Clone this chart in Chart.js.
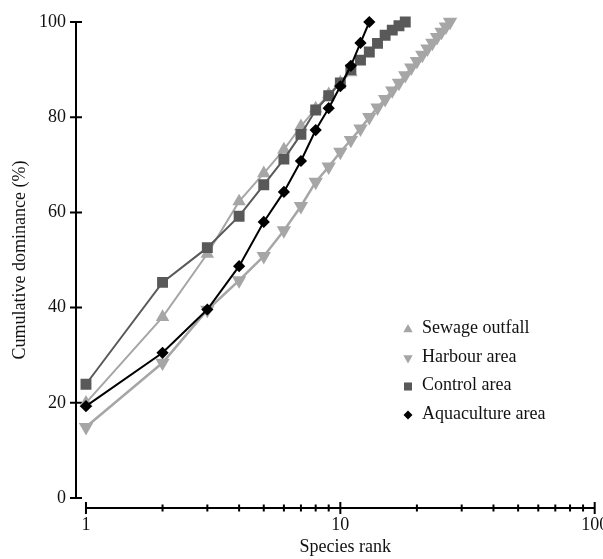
<!DOCTYPE html>
<html>
<head>
<meta charset="utf-8">
<script src="https://cdn.jsdelivr.net/npm/chart.js@4/dist/chart.umd.min.js"></script>
<style>
  html, body { margin: 0; padding: 0; background: #fff; }
  #wrap { width: 603px; height: 559px; }
</style>
</head>
<body>
<div id="wrap"><canvas id="chart" width="603" height="559"></canvas></div>
<script>
// Datos
const ranks = [1, 2, 3, 4, 5, 6, 7, 8, 9, 10, 11, 12, 13, 14, 15, 16, 17, 18, 19, 20, 21, 22, 23, 24, 25, 26, 27];
const sewage = [20.0, 38.0, 51.3, 62.3, 68.2, 73.2, 78.1, 81.8, 84.8, 87.3, 89.4];
const harbour = [14.9, 28.4, 39.5, 45.7, 50.8, 56.2, 61.3, 66.4, 69.6, 72.7, 75.2, 77.6, 80.0, 82.0, 83.8, 85.6, 87.2, 88.8, 90.4, 91.8, 93.1, 94.4, 95.6, 96.8, 97.9, 99.0, 100];
const control = [23.9, 45.3, 52.6, 59.2, 65.8, 71.2, 76.4, 81.5, 84.5, 87.2, 90.0, 92.0, 93.7, 95.5, 97.2, 98.3, 99.2, 100];
const aquaculture = [19.3, 30.5, 39.6, 48.7, 58.0, 64.3, 70.8, 77.3, 81.9, 86.5, 90.8, 95.6, 100];

const seriesLabels = ['Sewage outfall', 'Harbour area', 'Control area', 'Aquaculture area'];
const xTicks = [1, 2, 3, 4, 5, 6, 7, 8, 9, 10, 20, 30, 40, 50, 60, 70, 80, 90, 100];
const xLabels = [1, 10, 100];
const yTicks = [0, 20, 40, 60, 80, 100];
const xTitle = 'Species rank';
const yTitle = 'Cumulative dominance (%)';

const toPoints = vals => vals.map((v, i) => ({ x: ranks[i], y: v }));
const FONT = '"Liberation Serif", "Times New Roman", serif';

Chart.defaults.font.family = FONT;
Chart.defaults.font.size = 18;
Chart.defaults.color = '#111';

// ejes dibujados a mano (separados, con marcas cruzadas) + títulos
const axesPlugin = {
    id: 'axes',
    beforeDatasetsDraw(chart) {
        const { ctx, scales: { x, y } } = chart;
        ctx.save();
        ctx.strokeStyle = '#000';
        ctx.lineWidth = 2;
        ctx.beginPath();
        const ax = x.left;
        ctx.moveTo(ax, y.getPixelForValue(100));
        ctx.lineTo(ax, y.getPixelForValue(0));
        yTicks.forEach(v => {
            const py = y.getPixelForValue(v);
            ctx.moveTo(ax - 6, py);
            ctx.lineTo(ax + 6, py);
        });
        const ay = y.bottom;
        ctx.moveTo(x.getPixelForValue(1), ay);
        ctx.lineTo(x.getPixelForValue(100), ay);
        xTicks.forEach(v => {
            const px = x.getPixelForValue(v);
            const len = xLabels.includes(v) ? 6 : 3.5;
            ctx.moveTo(px, ay - len);
            ctx.lineTo(px, ay + len);
        });
        ctx.stroke();

        // títulos
        ctx.fillStyle = '#111';
        ctx.font = '18px ' + FONT;
        ctx.textAlign = 'center';
        ctx.textBaseline = 'middle';
        const xMid = (x.getPixelForValue(1) + x.getPixelForValue(100)) / 2 + 5;
        ctx.fillText(xTitle, xMid, 547);
        const yMid = (y.getPixelForValue(0) + y.getPixelForValue(100)) / 2;
        ctx.translate(20, yMid);
        ctx.rotate(-Math.PI / 2);
        ctx.fillText(yTitle, 0, 0);
        ctx.restore();
    }
};

// leyenda dentro del área
const legendOrder = [0, 1, 2, 3];
const legendPlugin = {
    id: 'insideLegend',
    afterDraw(chart) {
        const ctx = chart.ctx;
        ctx.save();
        ctx.font = '18px ' + FONT;
        ctx.textBaseline = 'middle';
        ctx.textAlign = 'left';
        legendOrder.forEach((idx, i) => {
            const ds = chart.data.datasets[idx];
            const y = 328.5 + i * 28.5;
            ctx.fillStyle = ds.pointBackgroundColor;
            Chart.helpers.drawPoint(ctx, {
                pointStyle: ds.pointStyle,
                rotation: ds.pointRotation || 0,
                radius: ds.legendRadius,
                borderWidth: 0
            }, 408, y + 1);
            ctx.fillStyle = '#111';
            ctx.fillText(ds.label, 422, y);
        });
        ctx.restore();
    }
};

const lightGray = '#a6a6a6';
const darkGray = '#595959';

new Chart(document.getElementById('chart').getContext('2d'), {
    type: 'line',
    data: {
        datasets: [
            {
                label: seriesLabels[0],
                data: toPoints(sewage),
                borderColor: lightGray,
                backgroundColor: lightGray,
                pointBackgroundColor: lightGray,
                pointBorderColor: lightGray,
                pointStyle: 'triangle',
                pointRadius: 5.8,
                borderWidth: 2,
                legendRadius: 5.5,
                order: 3
            },
            {
                label: seriesLabels[1],
                data: toPoints(harbour),
                borderColor: lightGray,
                backgroundColor: lightGray,
                pointBackgroundColor: lightGray,
                pointBorderColor: lightGray,
                pointStyle: 'triangle',
                pointRotation: 180,
                pointRadius: 5.8,
                borderWidth: 2.5,
                legendRadius: 5.5,
                order: 4
            },
            {
                label: seriesLabels[2],
                data: toPoints(control),
                borderColor: darkGray,
                backgroundColor: darkGray,
                pointBackgroundColor: darkGray,
                pointBorderColor: darkGray,
                pointStyle: 'rect',
                pointRadius: 6.3,
                borderWidth: 2,
                legendRadius: 5.7,
                order: 2
            },
            {
                label: seriesLabels[3],
                data: toPoints(aquaculture),
                borderColor: '#000',
                backgroundColor: '#000',
                pointBackgroundColor: '#000',
                pointBorderColor: '#000',
                pointStyle: 'rectRot',
                pointRadius: 4.7,
                borderWidth: 2,
                legendRadius: 4.5,
                order: 1
            }
        ]
    },
    options: {
        responsive: false,
        animation: false,
        devicePixelRatio: 1,
        layout: { padding: { top: 22, right: 7, left: 0, bottom: 0 } },
        elements: {
            line: { tension: 0 },
            point: { borderWidth: 1 }
        },
        datasets: { line: { clip: false } },
        plugins: {
            legend: { display: false },
            tooltip: { enabled: false }
        },
        scales: {
            x: {
                type: 'logarithmic',
                position: 'bottom',
                min: Math.pow(10, -10 / 255),
                max: 100,
                grid: { display: false, drawTicks: false },
                border: { display: false },
                ticks: {
                    autoSkip: false,
                    maxRotation: 0,
                    padding: 6,
                    color: '#111',
                    callback: v => xLabels.includes(v) ? String(v) : ''
                },
                afterBuildTicks: s => { s.ticks = xTicks.map(v => ({ value: v })); },
                afterFit: s => { s.height = 51; s.paddingLeft = 0; s.paddingRight = 0; }
            },
            y: {
                min: -10 / 4.76,
                max: 100,
                grid: { display: false, drawTicks: false },
                border: { display: false },
                ticks: { padding: 10, color: '#111' },
                afterBuildTicks: s => { s.ticks = yTicks.map(v => ({ value: v })); },
                afterFit: s => { s.width = 76; s.paddingTop = 0; s.paddingBottom = 0; }
            }
        }
    },
    plugins: [axesPlugin, legendPlugin]
});
</script>
</body>
</html>
